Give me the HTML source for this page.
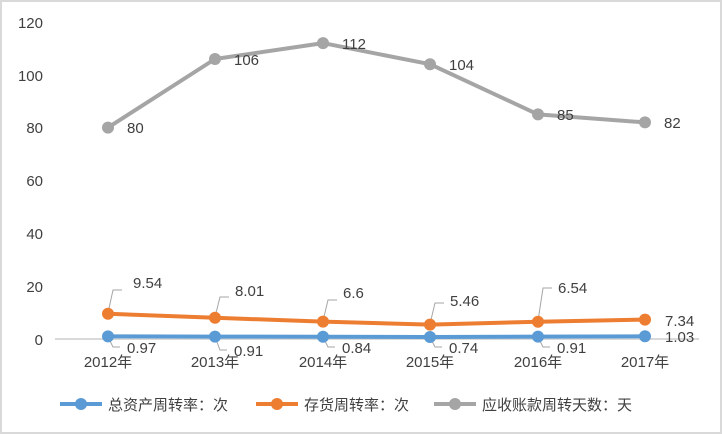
<!DOCTYPE html>
<html><head><meta charset="utf-8"><style>
html,body{margin:0;padding:0;background:#fff}
svg{display:block}
text{font-family:"Liberation Sans","Noto Sans CJK SC",sans-serif;font-size:15px;fill:#404040}
</style></head><body>
<svg width="722" height="434" viewBox="0 0 722 434">
<rect x="1" y="1" width="720" height="432" fill="#fff" stroke="#d9d9d9" stroke-width="2"/>
<g text-anchor="end">
<text x="43" y="28">120</text><text x="43" y="81">100</text><text x="43" y="133">80</text>
<text x="43" y="186">60</text><text x="43" y="239">40</text><text x="43" y="292">20</text><text x="43" y="345">0</text>
</g>
<line x1="55" y1="339" x2="699" y2="339" stroke="#d9d9d9" stroke-width="2"/>
<g text-anchor="middle">
<text x="108" y="367">2012年</text><text x="215" y="367">2013年</text><text x="323" y="367">2014年</text>
<text x="430" y="367">2015年</text><text x="538" y="367">2016年</text><text x="645" y="367">2017年</text>
</g>
<!-- gray -->
<polyline points="108,127.6 215,59 323,43.1 430,64.2 538,114.4 645,122.4" fill="none" stroke="#a5a5a5" stroke-width="4" stroke-linejoin="round"/>
<g fill="#a5a5a5"><circle cx="108" cy="127.6" r="6"/><circle cx="215" cy="59" r="6"/><circle cx="323" cy="43.1" r="6"/><circle cx="430" cy="64.2" r="6"/><circle cx="538" cy="114.4" r="6"/><circle cx="645" cy="122.4" r="6"/></g>
<text x="127" y="133">80</text><text x="234" y="65">106</text><text x="342" y="49">112</text><text x="449" y="70">104</text><text x="557" y="120">85</text><text x="664" y="128">82</text>
<!-- leaders -->
<g fill="none" stroke="#a6a6a6" stroke-width="1">
<polyline points="108,313 113,290 122,290"/><polyline points="215,317 220,297 229,297"/><polyline points="323,321 328,300 337,300"/><polyline points="430,324 435,303 444,303"/><polyline points="538,321 543,288 552,288"/>
<polyline points="108,337 113,347 120,347"/><polyline points="215,337 220,350 227,350"/><polyline points="323,337 328,347 335,347"/><polyline points="430,337 435,347 442,347"/><polyline points="538,337 543,347 550,347"/>
</g>
<!-- orange -->
<polyline points="108,313.8 215,317.8 323,321.6 430,324.6 538,321.7 645,319.6" fill="none" stroke="#ed7d31" stroke-width="4" stroke-linejoin="round"/>
<g fill="#ed7d31"><circle cx="108" cy="313.8" r="6"/><circle cx="215" cy="317.8" r="6"/><circle cx="323" cy="321.6" r="6"/><circle cx="430" cy="324.6" r="6"/><circle cx="538" cy="321.7" r="6"/><circle cx="645" cy="319.6" r="6"/></g>
<text x="133" y="288">9.54</text><text x="235" y="296">8.01</text><text x="343" y="298">6.6</text><text x="450" y="306">5.46</text><text x="558" y="293">6.54</text><text x="665" y="326">7.34</text>
<!-- blue -->
<polyline points="108,336.4 215,336.6 323,336.8 430,337 538,336.6 645,336.3" fill="none" stroke="#5b9bd5" stroke-width="4" stroke-linejoin="round"/>
<g fill="#5b9bd5"><circle cx="108" cy="336.4" r="6"/><circle cx="215" cy="336.6" r="6"/><circle cx="323" cy="336.8" r="6"/><circle cx="430" cy="337" r="6"/><circle cx="538" cy="336.6" r="6"/><circle cx="645" cy="336.3" r="6"/></g>
<text x="127" y="353">0.97</text><text x="234" y="356">0.91</text><text x="342" y="353">0.84</text><text x="449" y="353">0.74</text><text x="557" y="353">0.91</text><text x="665" y="342">1.03</text>
<!-- legend -->
<line x1="60" y1="404" x2="102" y2="404" stroke="#5b9bd5" stroke-width="4"/><circle cx="81" cy="404" r="6" fill="#5b9bd5"/>
<text x="108" y="410">总资产周转率：次</text>
<line x1="256" y1="404" x2="298" y2="404" stroke="#ed7d31" stroke-width="4"/><circle cx="277" cy="404" r="6" fill="#ed7d31"/>
<text x="304" y="410">存货周转率：次</text>
<line x1="434" y1="404" x2="476" y2="404" stroke="#a5a5a5" stroke-width="4"/><circle cx="455" cy="404" r="6" fill="#a5a5a5"/>
<text x="482" y="410">应收账款周转天数：天</text>
</svg>
</body></html>
